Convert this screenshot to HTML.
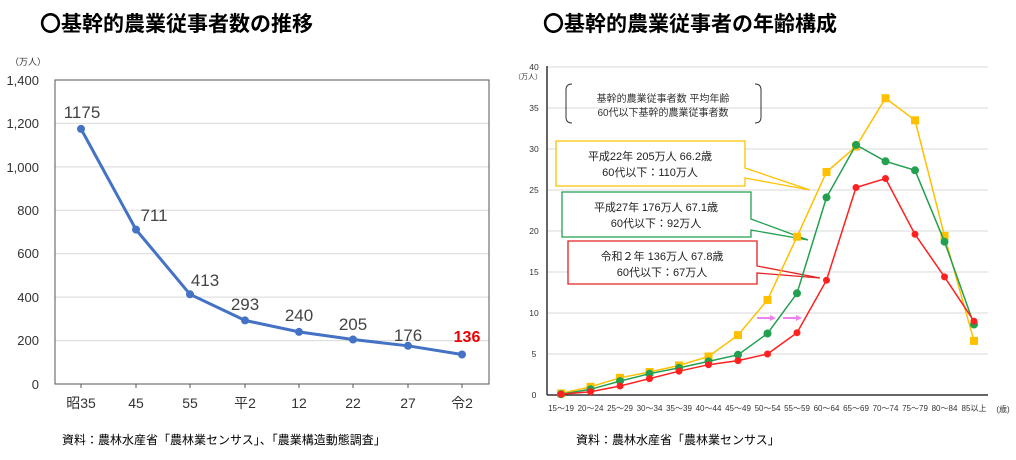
<!DOCTYPE html>
<html><head><meta charset="utf-8"><style>
body{margin:0;background:#fff;}
svg{display:block;font-family:"Liberation Sans","Noto Sans CJK JP",sans-serif;}
</style></head><body>
<svg width="1016" height="460" viewBox="0 0 1016 460">
<text x="40" y="31" font-size="21" font-weight="bold" fill="#000">〇基幹的農業従事者数の推移</text>
<text x="543" y="31" font-size="21" font-weight="bold" fill="#000">〇基幹的農業従事者の年齢構成</text>

<!-- LEFT CHART -->
<text x="10" y="65" font-size="9" fill="#333">（万人）</text>
<g stroke="#d9d9d9" stroke-width="1">
<line x1="55" y1="123.4" x2="489" y2="123.4"/><line x1="55" y1="166.9" x2="489" y2="166.9"/>
<line x1="55" y1="210.3" x2="489" y2="210.3"/><line x1="55" y1="253.7" x2="489" y2="253.7"/>
<line x1="55" y1="297.1" x2="489" y2="297.1"/><line x1="55" y1="340.6" x2="489" y2="340.6"/>
</g>
<rect x="55" y="80" width="434" height="304" fill="none" stroke="#555" stroke-width="1"/>
<g font-size="13" fill="#333" text-anchor="end">
<text x="39" y="85">1,400</text><text x="39" y="128">1,200</text><text x="39" y="172">1,000</text>
<text x="39" y="215">800</text><text x="39" y="258">600</text><text x="39" y="302">400</text>
<text x="39" y="345">200</text><text x="39" y="389">0</text>
</g>
<g stroke="#555"><line x1="81" y1="384" x2="81" y2="388"/><line x1="136" y1="384" x2="136" y2="388"/><line x1="190" y1="384" x2="190" y2="388"/><line x1="245" y1="384" x2="245" y2="388"/><line x1="299" y1="384" x2="299" y2="388"/><line x1="353" y1="384" x2="353" y2="388"/><line x1="408" y1="384" x2="408" y2="388"/><line x1="462" y1="384" x2="462" y2="388"/></g>
<g font-size="14" fill="#333" text-anchor="middle">
<text x="81" y="408">昭35</text><text x="136" y="408">45</text><text x="190" y="408">55</text><text x="245" y="408">平2</text>
<text x="299" y="408">12</text><text x="353" y="408">22</text><text x="408" y="408">27</text><text x="462" y="408">令2</text>
</g>
<polyline fill="none" stroke="#4472c4" stroke-width="3" points="81,128.9 136,229.6 190,294.3 245,320.4 299,331.9 353,339.5 408,345.8 462,354.5"/>
<g fill="#4472c4"><circle cx="81" cy="128.9" r="4"/><circle cx="136" cy="229.6" r="4"/><circle cx="190" cy="294.3" r="4"/><circle cx="245" cy="320.4" r="4"/><circle cx="299" cy="331.9" r="4"/><circle cx="353" cy="339.5" r="4"/><circle cx="408" cy="345.8" r="4"/><circle cx="462" cy="354.5" r="4"/></g>
<g font-size="17" fill="#444" text-anchor="middle">
<text x="82" y="118">1175</text><text x="154" y="221">711</text><text x="205" y="286">413</text><text x="245" y="310">293</text>
<text x="299" y="321">240</text><text x="353" y="330">205</text><text x="408" y="341">176</text>
</g>
<text x="467" y="342" font-size="16" font-weight="bold" fill="#e00" text-anchor="middle">136</text>
<text x="62" y="444" font-size="12" fill="#000">資料：農林水産省「農林業センサス」、「農業構造動態調査」</text>

<!-- RIGHT CHART -->
<text x="514" y="79" font-size="7" fill="#333">（万人）</text>
<g stroke="#d9d9d9" stroke-width="1">
<line x1="547" y1="67" x2="988" y2="67"/><line x1="547" y1="108" x2="988" y2="108"/><line x1="547" y1="149" x2="988" y2="149"/>
<line x1="547" y1="190" x2="988" y2="190"/><line x1="547" y1="231" x2="988" y2="231"/><line x1="547" y1="272" x2="988" y2="272"/>
<line x1="547" y1="313" x2="988" y2="313"/><line x1="547" y1="354" x2="988" y2="354"/>
</g>
<g font-size="8.5" fill="#333" text-anchor="middle">
<text x="534" y="70">40</text><text x="534" y="111">35</text><text x="534" y="152">30</text><text x="534" y="193">25</text>
<text x="534" y="234">20</text><text x="534" y="275">15</text><text x="534" y="316">10</text><text x="534" y="357">5</text><text x="534" y="398">0</text>
</g>
<line x1="547" y1="66" x2="547" y2="395" stroke="#333" stroke-width="1.5"/>
<line x1="547" y1="395" x2="988" y2="395" stroke="#333" stroke-width="1.5"/>
<g font-size="8" fill="#333" text-anchor="middle">
<text x="561" y="411">15～19</text><text x="590.5" y="411">20～24</text><text x="620" y="411">25～29</text><text x="649.5" y="411">30～34</text>
<text x="679" y="411">35～39</text><text x="708.5" y="411">40～44</text><text x="738" y="411">45～49</text><text x="767.5" y="411">50～54</text>
<text x="797" y="411">55～59</text><text x="826.5" y="411">60～64</text><text x="856" y="411">65～69</text><text x="885.5" y="411">70～74</text>
<text x="915" y="411">75～79</text><text x="944.5" y="411">80～84</text><text x="974" y="411">85以上</text><text x="1003" y="412">(歳)</text>
</g>
<!-- bracket legend -->
<path d="M572,84 Q566,84 566,90 L566,117 Q566,123 572,123" fill="none" stroke="#333"/>
<path d="M755,84 Q761,84 761,90 L761,117 Q761,123 755,123" fill="none" stroke="#333"/>
<text x="663" y="102" font-size="10" fill="#333" text-anchor="middle">基幹的農業従事者数  平均年齢</text>
<text x="663" y="116" font-size="10" fill="#333" text-anchor="middle">60代以下基幹的農業従事者数</text>
<!-- callouts -->
<path d="M556,141 L745,141 L745,168 L810,190 L745,178 L745,186 L556,186 Z" fill="#fff" stroke="#ffc000" stroke-width="1.3"/>
<text x="650" y="160" font-size="11" fill="#222" text-anchor="middle">平成22年  205万人  66.2歳</text>
<text x="650" y="176" font-size="11" fill="#222" text-anchor="middle">60代以下：110万人</text>
<path d="M562,192 L751,192 L751,219 L808,240 L751,230 L751,237 L562,237 Z" fill="#fff" stroke="#22a050" stroke-width="1.3"/>
<text x="656" y="211" font-size="11" fill="#222" text-anchor="middle">平成27年  176万人  67.1歳</text>
<text x="656" y="227" font-size="11" fill="#222" text-anchor="middle">60代以下：92万人</text>
<path d="M568,241 L757,241 L757,266 L820,278 L757,273 L757,284 L568,284 Z" fill="#fff" stroke="#e52020" stroke-width="1.3"/>
<text x="662" y="260" font-size="11" fill="#222" text-anchor="middle">令和２年  136万人  67.8歳</text>
<text x="662" y="276" font-size="11" fill="#222" text-anchor="middle">60代以下：67万人</text>
<!-- series -->
<polyline fill="none" stroke="#ffc000" stroke-width="1.5" points="561,393.4 590.5,386.8 620,377.8 649.5,372 679,365.5 708.5,356.5 738,335.1 767.5,299.9 797,236.7 826.5,172 856,146.5 885.5,98.2 915,120.3 944.5,235.9 974,340.9"/>
<g fill="#ffc000">
<rect x="557" y="389.4" width="8" height="8"/><rect x="586.5" y="382.8" width="8" height="8"/><rect x="616" y="373.8" width="8" height="8"/><rect x="645.5" y="368" width="8" height="8"/><rect x="675" y="361.5" width="8" height="8"/><rect x="704.5" y="352.5" width="8" height="8"/><rect x="734" y="331.1" width="8" height="8"/><rect x="763.5" y="295.9" width="8" height="8"/><rect x="793" y="232.7" width="8" height="8"/><rect x="822.5" y="168" width="8" height="8"/><rect x="852" y="142.5" width="8" height="8"/><rect x="881.5" y="94.2" width="8" height="8"/><rect x="911" y="116.3" width="8" height="8"/><rect x="940.5" y="231.9" width="8" height="8"/><rect x="970" y="336.9" width="8" height="8"/>
</g>
<polyline fill="none" stroke="#22a050" stroke-width="1.5" points="561,394.2 590.5,389.3 620,381.1 649.5,373.7 679,367.9 708.5,361.4 738,354.8 767.5,333.5 797,293.3 826.5,197.4 856,144.9 885.5,161.3 915,170.3 944.5,241.7 974,324.5"/>
<g fill="#22a050">
<circle cx="561" cy="394.2" r="4"/><circle cx="590.5" cy="389.3" r="4"/><circle cx="620" cy="381.1" r="4"/><circle cx="649.5" cy="373.7" r="4"/><circle cx="679" cy="367.9" r="4"/><circle cx="708.5" cy="361.4" r="4"/><circle cx="738" cy="354.8" r="4"/><circle cx="767.5" cy="333.5" r="4"/><circle cx="797" cy="293.3" r="4"/><circle cx="826.5" cy="197.4" r="4"/><circle cx="856" cy="144.9" r="4"/><circle cx="885.5" cy="161.3" r="4"/><circle cx="915" cy="170.3" r="4"/><circle cx="944.5" cy="241.7" r="4"/><circle cx="974" cy="324.5" r="4"/>
</g>
<polyline fill="none" stroke="#ff2020" stroke-width="1.5" points="561,394.2 590.5,391.7 620,386 649.5,378.6 679,371.2 708.5,364.7 738,360.6 767.5,354 797,332.7 826.5,280.2 856,187.5 885.5,178.5 915,234.3 944.5,276.9 974,321.2"/>
<g fill="#ff2020">
<circle cx="561" cy="394.2" r="3.5"/><circle cx="590.5" cy="391.7" r="3.5"/><circle cx="620" cy="386" r="3.5"/><circle cx="649.5" cy="378.6" r="3.5"/><circle cx="679" cy="371.2" r="3.5"/><circle cx="708.5" cy="364.7" r="3.5"/><circle cx="738" cy="360.6" r="3.5"/><circle cx="767.5" cy="354" r="3.5"/><circle cx="797" cy="332.7" r="3.5"/><circle cx="826.5" cy="280.2" r="3.5"/><circle cx="856" cy="187.5" r="3.5"/><circle cx="885.5" cy="178.5" r="3.5"/><circle cx="915" cy="234.3" r="3.5"/><circle cx="944.5" cy="276.9" r="3.5"/><circle cx="974" cy="321.2" r="3.5"/>
</g>
<!-- pink arrows -->
<g stroke="#ee82ee" stroke-width="2" fill="#ee82ee">
<line x1="757" y1="318" x2="771" y2="318"/><path d="M770,315 L776,318 L770,321 Z" stroke="none"/>
<line x1="783" y1="318" x2="797" y2="318"/><path d="M796,315 L802,318 L796,321 Z" stroke="none"/>
</g>
<text x="576" y="444" font-size="12" fill="#000">資料：農林水産省「農林業センサス」</text>
</svg>
</body></html>
